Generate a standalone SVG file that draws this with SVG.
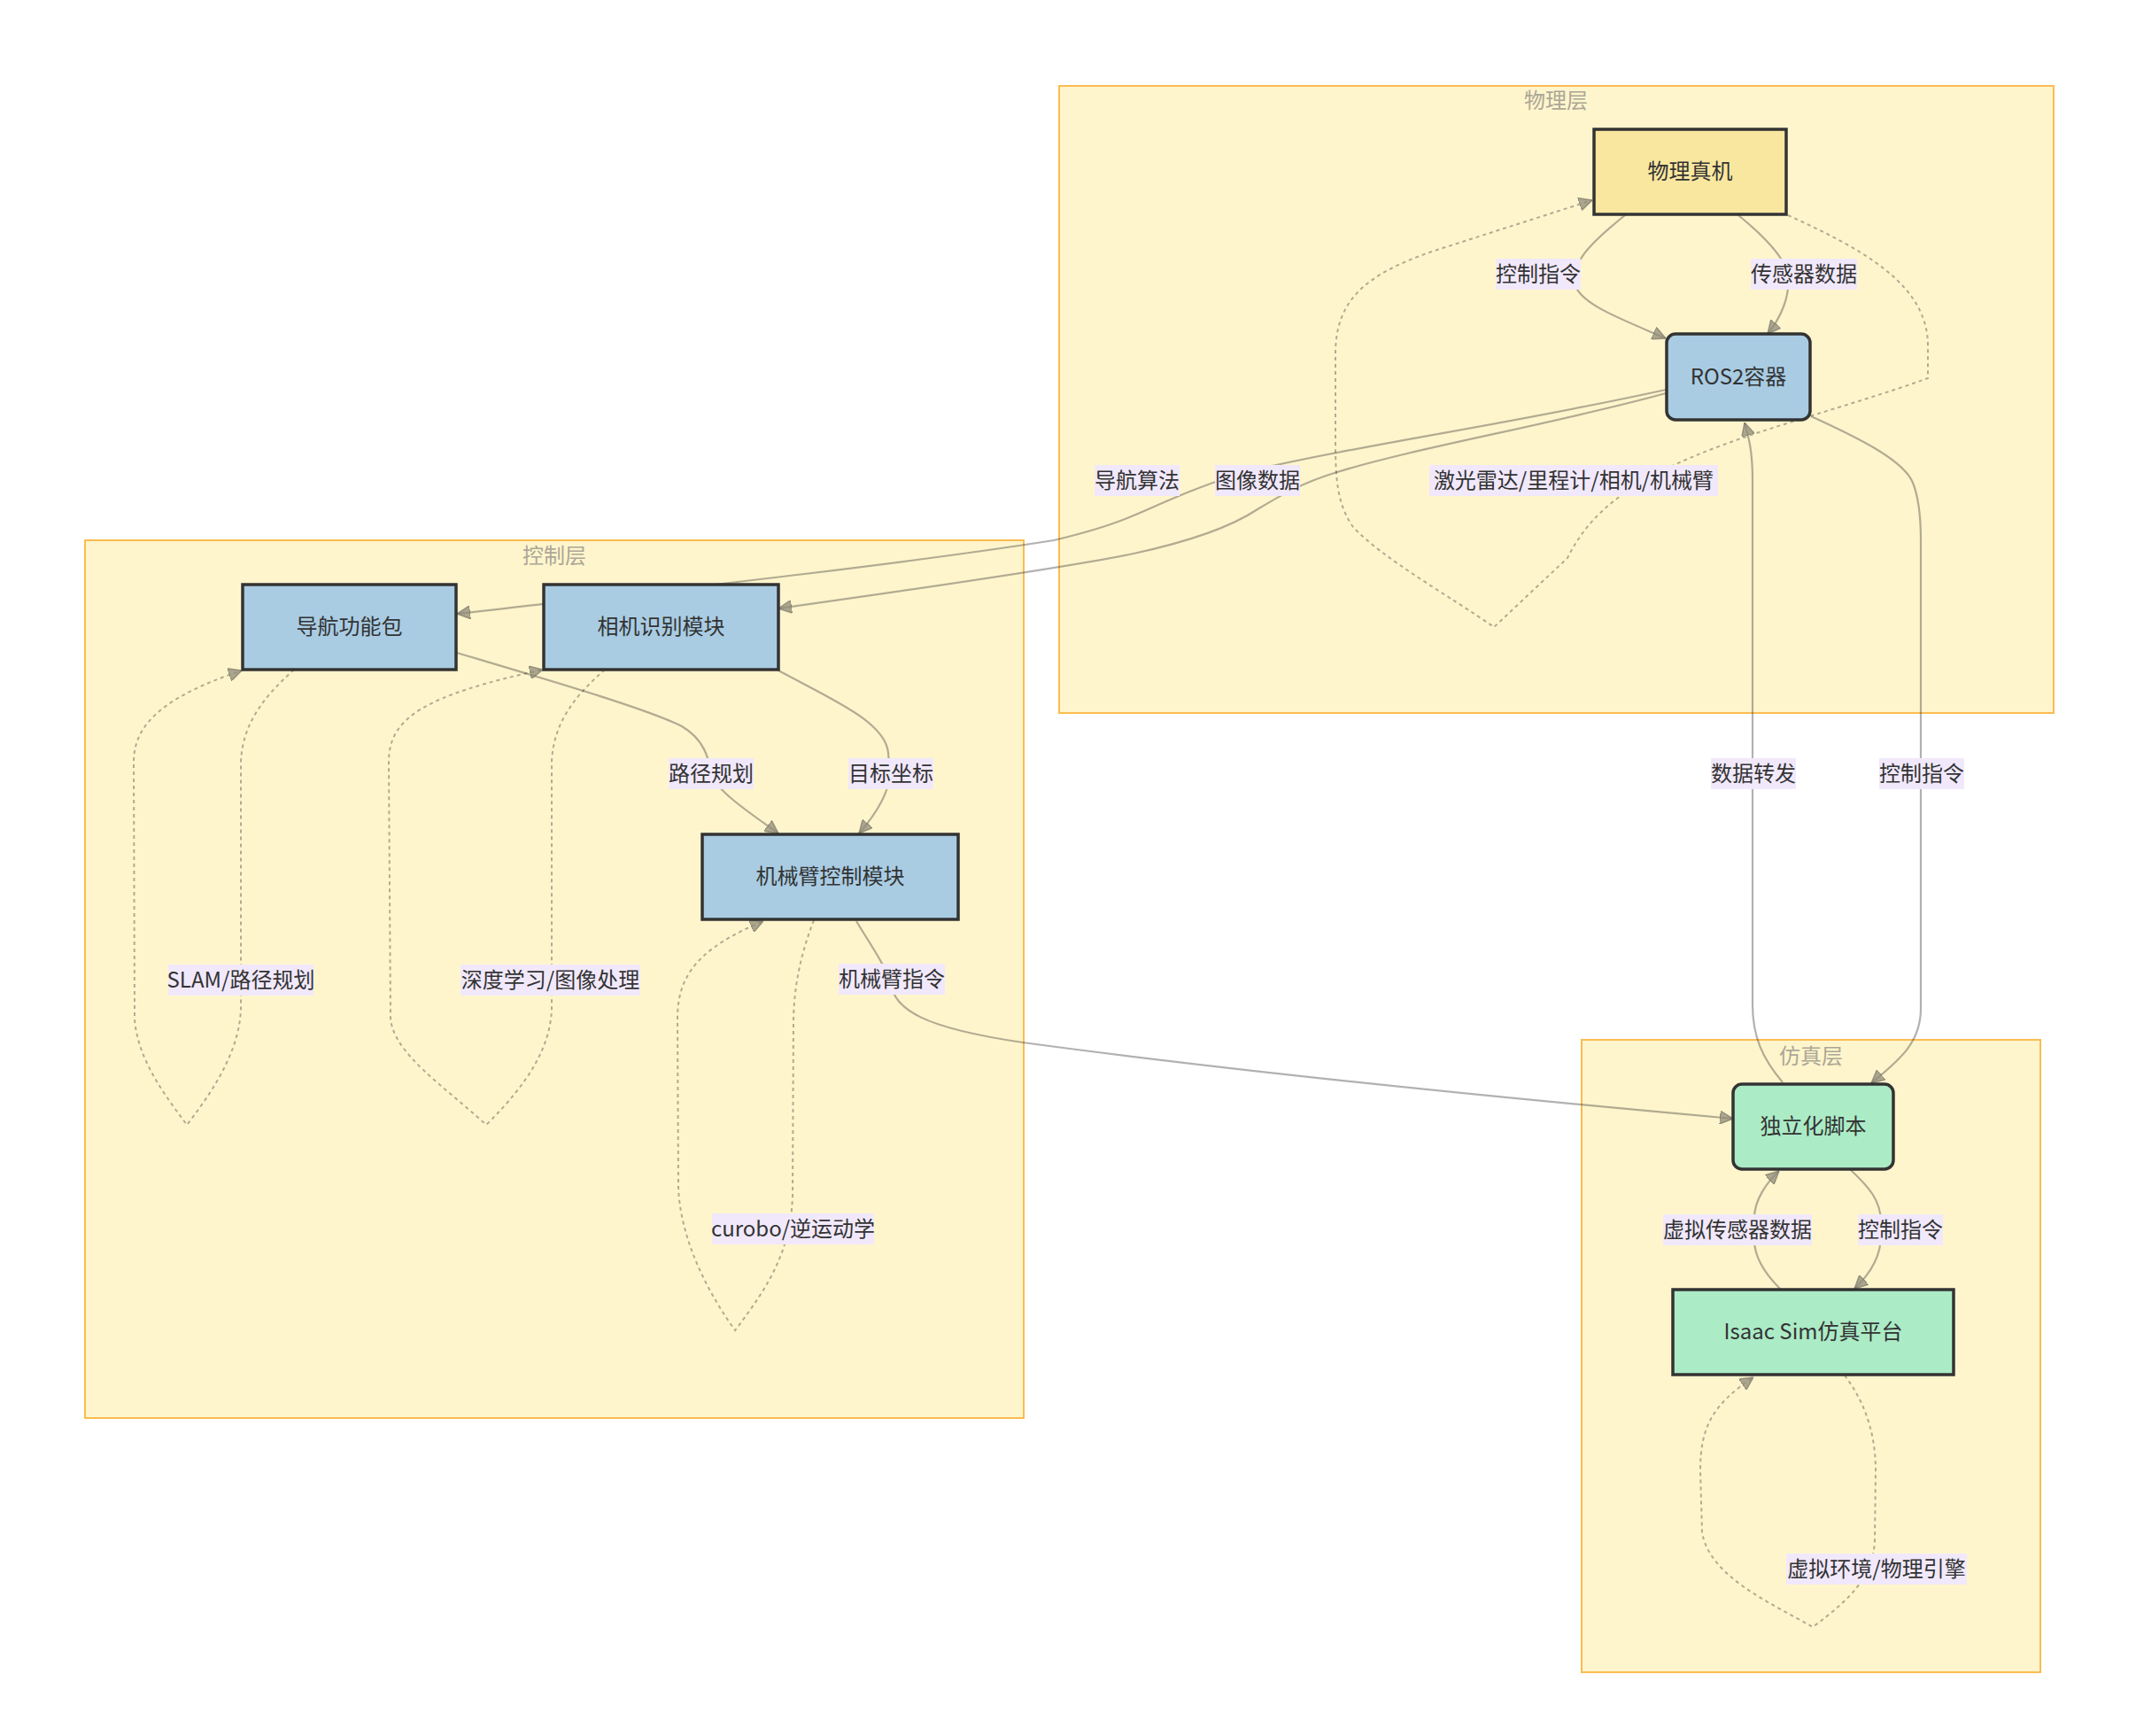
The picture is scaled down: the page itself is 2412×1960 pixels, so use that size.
<svg xmlns="http://www.w3.org/2000/svg" width="2412" height="1960" viewBox="0 0 2412 1960">
<defs>
<marker id="arr" viewBox="0 0 10 10" refX="10" refY="5" markerUnits="userSpaceOnUse" markerWidth="15" markerHeight="15" orient="auto">
<path d="M0,0 L10,5 L0,10 z" fill="#8f8b78" fill-opacity="0.75" stroke="#6f6c60" stroke-opacity="0.6" stroke-width="1"/>
</marker>
<style>
text{font-family:"Noto Sans CJK SC","Noto Sans",sans-serif;font-size:24px;fill:#333;text-anchor:middle;dominant-baseline:central}
.cluster rect{fill:#fff5cc;stroke:#fbbc50;stroke-width:2}
.cluster text{fill:#aca796}
.edge{fill:none;stroke:#333;stroke-opacity:0.38;stroke-width:2.2}
.dash{fill:none;stroke:#333;stroke-opacity:0.38;stroke-width:2;stroke-dasharray:4 4}
.lbl rect{fill:#f1e9fb}
.node rect{stroke:#333;stroke-width:3.5}
.yellow{fill:#f9e79f}
.blue{fill:#a9cce3}
.green{fill:#abebc6}
</style>
</defs>
<rect x="0" y="0" width="2412" height="1960" fill="#ffffff"/>

<g id="clusters">
<g id="cluster-phys" class="cluster"><rect x="1196" y="97" width="1123" height="708"/><text x="1757" y="111">物理层</text></g>
<g id="cluster-ctrl" class="cluster"><rect x="96" y="610" width="1060" height="991"/><text x="626" y="625">控制层</text></g>
<g id="cluster-sim" class="cluster"><rect x="1786" y="1174" width="518" height="714"/><text x="2045" y="1190">仿真层</text></g>
</g>

<g id="edges">
<path class="edge" marker-end="url(#arr)" d="M1835,243 C1795,275 1770,300 1780,325 C1790,345 1830,360 1881,382"/>
<path class="edge" marker-end="url(#arr)" d="M1963,243 C1990,265 2015,290 2019,310 C2022,335 2010,360 1996,377"/>
<path class="dash" marker-end="url(#arr)" d="M2019,243 C2100,280 2177,320 2177,390 L2177,427 C2080,462 1960,490 1880,530 C1820,560 1790,590 1770,630 L1687,708 C1640,675 1560,630 1528,595 C1510,570 1508,540 1508,500 L1508,400 C1508,340 1540,310 1620,283 L1798,226"/>
<path class="edge" marker-end="url(#arr)" d="M1881,440 C1700,480 1520,505 1420,530 C1360,545 1320,565 1280,582 C1250,595 1215,604 1190,610 C1000,640 700,672 516,693"/>
<path class="edge" marker-end="url(#arr)" d="M1881,444 C1750,480 1600,505 1510,533 C1470,545 1445,560 1420,575 C1390,595 1340,612 1280,625 C1200,642 1000,670 879,687"/>
<path class="edge" marker-end="url(#arr)" d="M516,737 C620,768 730,800 770,820 C795,835 800,855 803,873 C808,893 850,920 879,941"/>
<path class="edge" marker-end="url(#arr)" d="M879,757 C940,790 1000,815 1003,850 L1005,873 C1004,895 990,918 970,941"/>
<path class="edge" marker-end="url(#arr)" d="M967,1040 C985,1070 1000,1090 1005,1110 C1012,1140 1040,1160 1155,1177 C1400,1210 1700,1240 1957,1263"/>
<path class="edge" marker-end="url(#arr)" d="M2013,1222 C1990,1195 1979,1170 1979,1134 L1979,542 C1979,510 1975,495 1970,477"/>
<path class="edge" marker-end="url(#arr)" d="M2045,470 C2100,495 2150,520 2160,545 C2168,565 2169,590 2169,610 L2169,1139 C2169,1180 2140,1200 2113,1223"/>
<path class="edge" marker-end="url(#arr)" d="M2090,1321 C2110,1340 2124,1355 2124,1380 L2124,1395 C2124,1420 2110,1440 2094,1455"/>
<path class="edge" marker-end="url(#arr)" d="M2010,1455 C1995,1440 1981,1420 1981,1400 L1981,1375 C1981,1355 1995,1335 2009,1322"/>
<path class="dash" marker-end="url(#arr)" d="M332,756 C300,785 274,815 272,860 L272,1140 C270,1180 250,1220 211,1270 C185,1235 155,1195 152,1150 L151,860 C151,815 190,785 273,757"/>
<path class="dash" marker-end="url(#arr)" d="M683,756 C650,785 625,815 623,860 L623,1140 C621,1180 600,1220 549,1270 C500,1225 445,1190 441,1150 L439,860 C439,810 480,785 613,756"/>
<path class="dash" marker-end="url(#arr)" d="M919,1039 C905,1075 897,1110 896,1150 L895,1350 C893,1410 870,1450 830,1502 C800,1460 768,1400 766,1340 L765,1150 C765,1100 790,1070 862,1040"/>
<path class="dash" marker-end="url(#arr)" d="M2083,1553 C2100,1575 2118,1610 2118,1660 L2117,1740 C2115,1780 2090,1805 2047,1837 C2000,1810 1930,1780 1922,1730 L1920,1660 C1920,1610 1935,1585 1980,1555"/>
</g>

<g id="edge-labels">
<g class="lbl"><rect x="1689" y="292" width="96" height="35"/><text x="1737" y="307">控制指令</text></g>
<g class="lbl"><rect x="1977" y="292" width="120" height="35"/><text x="2037" y="307">传感器数据</text></g>
<g class="lbl"><rect x="1236" y="525" width="96" height="35"/><text x="1284" y="540">导航算法</text></g>
<g class="lbl"><rect x="1372" y="525" width="96" height="35"/><text x="1420" y="540">图像数据</text></g>
<g class="lbl"><rect x="1614" y="525" width="326" height="35"/><text x="1777" y="540">激光雷达/里程计/相机/机械臂</text></g>
<g class="lbl"><rect x="190" y="1089" width="164" height="35"/><text x="272" y="1104">SLAM/路径规划</text></g>
<g class="lbl"><rect x="520" y="1089" width="203" height="35"/><text x="621.5" y="1104">深度学习/图像处理</text></g>
<g class="lbl"><rect x="755" y="856" width="96" height="35"/><text x="803" y="871">路径规划</text></g>
<g class="lbl"><rect x="958" y="856" width="96" height="35"/><text x="1006" y="871">目标坐标</text></g>
<g class="lbl"><rect x="947" y="1088" width="120" height="35"/><text x="1007" y="1103">机械臂指令</text></g>
<g class="lbl"><rect x="804" y="1370" width="183" height="35"/><text x="895.5" y="1385">curobo/逆运动学</text></g>
<g class="lbl"><rect x="1932" y="856" width="96" height="35"/><text x="1980" y="871">数据转发</text></g>
<g class="lbl"><rect x="2122" y="856" width="96" height="35"/><text x="2170" y="871">控制指令</text></g>
<g class="lbl"><rect x="1878" y="1371" width="168" height="35"/><text x="1962" y="1386">虚拟传感器数据</text></g>
<g class="lbl"><rect x="2098" y="1371" width="96" height="35"/><text x="2146" y="1386">控制指令</text></g>
<g class="lbl"><rect x="2017" y="1754" width="204" height="35"/><text x="2119" y="1769">虚拟环境/物理引擎</text></g>
</g>

<g id="node-phys" class="node"><rect class="yellow" x="1800" y="146" width="217" height="96"/><text x="1908.5" y="191.5">物理真机</text></g>
<g id="node-ros2" class="node"><rect class="blue" x="1882" y="377" width="162" height="97" rx="10" ry="10"/><text x="1963" y="423">ROS2容器</text></g>
<g id="node-nav" class="node"><rect class="blue" x="274" y="660" width="241" height="96"/><text x="394.5" y="705.5">导航功能包</text></g>
<g id="node-cam" class="node"><rect class="blue" x="614" y="660" width="265" height="96"/><text x="746.5" y="705.5">相机识别模块</text></g>
<g id="node-arm" class="node"><rect class="blue" x="793" y="942" width="289" height="96"/><text x="937.5" y="987.5">机械臂控制模块</text></g>
<g id="node-script" class="node"><rect class="green" x="1957" y="1224" width="181" height="96" rx="10" ry="10"/><text x="2047.5" y="1269.5">独立化脚本</text></g>
<g id="node-isaac" class="node"><rect class="green" x="1889" y="1456" width="317" height="96"/><text x="2047.5" y="1501.5">Isaac Sim仿真平台</text></g>
</svg>
